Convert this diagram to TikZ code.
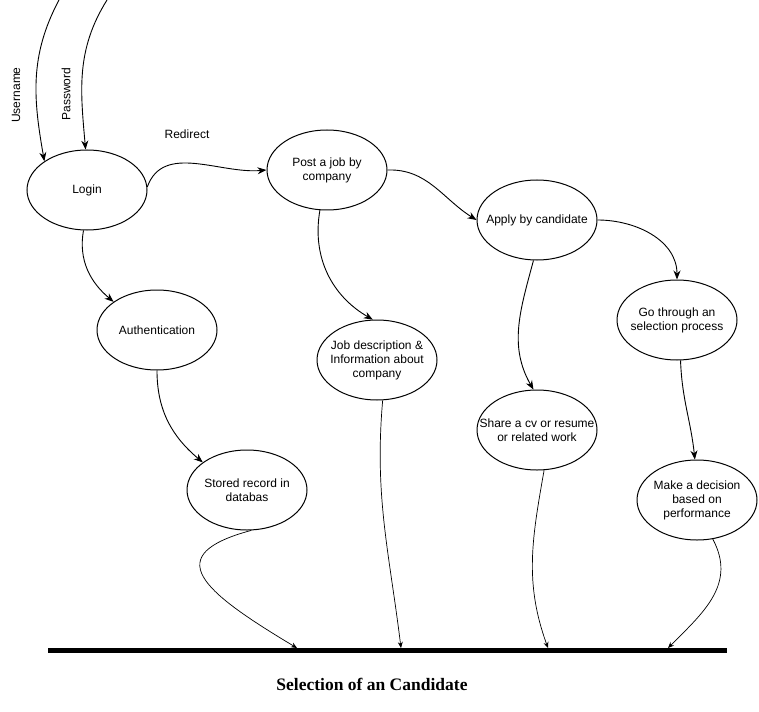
\documentclass[tikz,border=0pt]{standalone}
\usepackage{fontspec}
\setmainfont{Liberation Sans}
\newfontfamily\titlefont{Liberation Serif}
\usetikzlibrary{shapes.geometric,arrows.meta}
\begin{document}
\begin{tikzpicture}[x=1pt,y=-1pt,
  proc/.style={ellipse,draw,line width=1pt,minimum width=120pt,minimum height=80pt,inner sep=0pt},
  ptext/.style={align=center,font=\fontsize{12}{14}\selectfont,inner sep=0pt},
  flow/.style={line width=0.9pt,-{Stealth[length=9pt,width=7pt]}},
  sink/.style={line width=0.7pt,-{Stealth[length=6pt,width=5pt]}},
  lbl/.style={font=\fontsize{12}{14}\selectfont,inner sep=0pt}]
\useasboundingbox (0,0) rectangle (759,711);
\fill[white] (0,0) rectangle (759,711);
% nodes
\node[proc,label={[ptext]center:Login}] (login) at (87,190) {};
\node[proc,label={[ptext]center:Post a job by\\company}] (post) at (327,170) {};
\node[proc,label={[ptext]center:Apply by candidate}] (apply) at (537,220) {};
\node[proc,label={[ptext]center:Authentication}] (auth) at (157,330) {};
\node[proc,label={[ptext]center:Job description \&\\Information about\\company}] (jobd) at (377,360) {};
\node[proc,label={[ptext]center:Go through an\\selection process}] (go) at (677,320) {};
\node[proc,label={[ptext]center:Share a cv or resume\\or related work}] (share) at (537,430) {};
\node[proc,label={[ptext]center:Stored record in\\databas}] (stored) at (247,490) {};
\node[proc,label={[ptext]center:Make a decision\\based on\\performance}] (make) at (697,500) {};
% bar
\coordinate (barL) at (48,650);
\coordinate (barR) at (727,650);
\draw[line width=5pt] (barL) -- (barR);
\node[font=\titlefont\bfseries\fontsize{17.5}{19}\selectfont] (title) at (372,684) {Selection of an Candidate};
% inputs
\coordinate (uStart) at (59,0);
\coordinate (pStart) at (107,0);
\draw[flow] (uStart) to[out=-118,in=100] (login.146);
\draw[flow] (pStart) to[out=-122,in=95] (login.92);
\node[lbl,rotate=90] (uname) at (16,95) {Username};
\node[lbl,rotate=90] (pword) at (66,94) {Password};
% top edges
\draw[flow] (login.3) to[out=70,in=185] (post.west);
\node[lbl] (redir) at (187,134) {Redirect};
\draw[flow] (post.east) to[out=2,in=148] (apply.west);
\draw[flow] (apply.east) to[out=0,in=90] (go.north);
\draw[flow] (login.-95) to[out=-100,in=140] (auth.147);
\draw[flow] (post.-100) to[out=-100,in=150] (jobd.96);
\draw[flow] (apply.-95) to[out=-105,in=120] (share.95);
\draw[flow] (auth.south) to[out=-90,in=140] (stored.148);
\draw[flow] (go.-85) to[out=-88,in=96] (make.93);
% bottom edges
\coordinate (b1) at (297,648);
\coordinate (b2) at (401,648);
\coordinate (b3) at (548,648);
\coordinate (b4) at (668,648);
\draw[sink] (stored.-84) .. controls (160,555) and (200,590) .. (b1);
\draw[sink] (jobd.-82) to[out=-95,in=97] (b2);
\draw[sink] (share.-80) to[out=-100,in=110] (b3);
\draw[sink] (make.-68) to[out=-62,in=45,looseness=1.1] (b4);
\end{tikzpicture}
\end{document}
